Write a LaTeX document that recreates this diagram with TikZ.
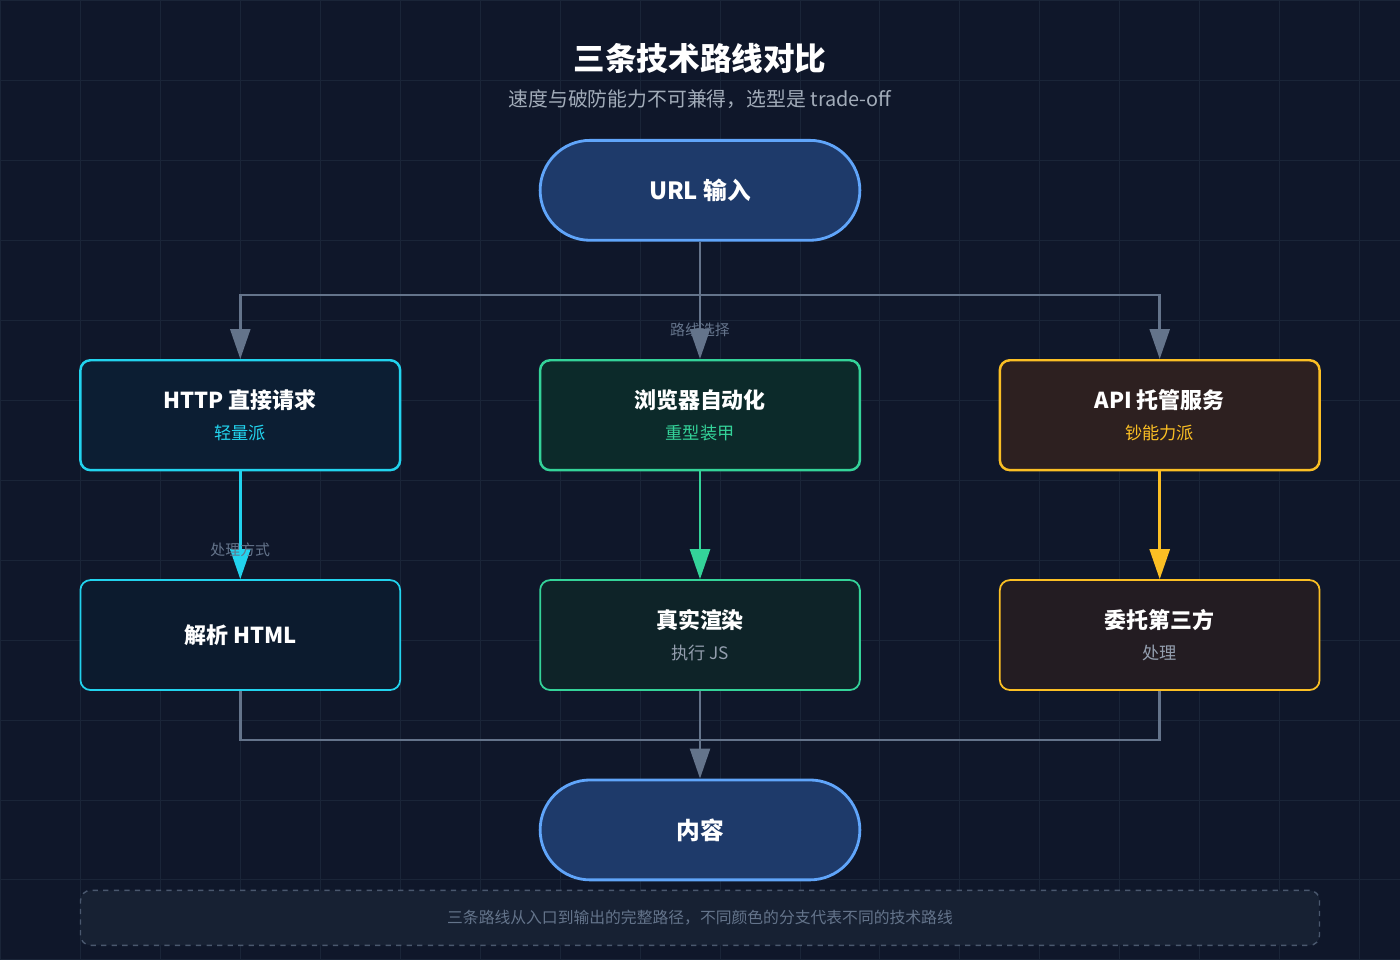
\documentclass[tikz,border=0pt]{standalone}
\usepackage{fontspec}
\setmainfont{Noto Sans CJK SC}
\usetikzlibrary{arrows.meta,positioning}
\definecolor{bgc}{HTML}{0F172A}
\definecolor{gridc}{HTML}{1A2538}
\definecolor{linec}{HTML}{64748B}
\definecolor{pillfill}{HTML}{1E3A6A}
\definecolor{pillline}{HTML}{60A5FA}
\definecolor{cyanc}{HTML}{22D3EE}
\definecolor{greenc}{HTML}{34D399}
\definecolor{amberc}{HTML}{FBBF24}
\definecolor{httpfill}{HTML}{0C1E33}
\definecolor{browserfill}{HTML}{0C2A2A}
\definecolor{apifill}{HTML}{2D2020}
\definecolor{parsefill}{HTML}{0C1B2E}
\definecolor{renderfill}{HTML}{0E2328}
\definecolor{thirdfill}{HTML}{231C22}
\definecolor{notefill}{HTML}{172133}
\newcommand\subtxt[2]{{\mdseries\fontsize{9.8}{12}\selectfont\color{#1}#2}}
\tikzset{
  pill/.style = {rounded corners=50*0.02cm, draw=pillline, line width=1.6pt, fill=pillfill,
    minimum width=6.4cm, minimum height=2cm, text=white, font=\fontsize{13.5}{16}\selectfont\bfseries},
  box/.style = {rounded corners=0.2cm, line width=1.4pt, minimum width=6.4cm,
    minimum height=2.2cm, text=white, align=center, font=\fontsize{12.5}{15}\selectfont\bfseries},
  tag/.style = {text=linec, font=\fontsize{8.5}{10}\selectfont},
  conn/.style = {draw=linec, line width=1.4pt},
  tip/.style = {-{Triangle[length=0.6cm,width=0.4cm]}}
}
\begin{document}
\begin{tikzpicture}[x=0.02cm,y=-0.02cm]
\fill[bgc] (0,0) rectangle (1400,960);
\foreach \i in {0,80,...,1400} \draw[gridc,line width=0.5pt] (\i,0) -- (\i,960);
\foreach \j in {0,80,...,960} \draw[gridc,line width=0.5pt] (0,\j) -- (1400,\j);
\useasboundingbox (0,0) rectangle (1400,960);

% title
\node[text=white, font=\fontsize{18}{21}\selectfont\bfseries] (title) at (700,58) {三条技术路线对比};
\node[text=linec!60!white, font=\fontsize{11.3}{13}\selectfont] (subtitle) at (700,99) {速度与破防能力不可兼得，选型是 trade-off};

% nodes
\node[pill] (url) at (700,190) {URL 输入};

\node[box, draw=cyanc, fill=httpfill] (http) at (240,415) {HTTP 直接请求\\[3pt] \subtxt{cyanc}{轻量派}};
\node[box, draw=greenc, fill=browserfill] (browser) at (700,415) {浏览器自动化\\[3pt] \subtxt{greenc}{重型装甲}};
\node[box, draw=amberc, fill=apifill] (api) at (1160,415) {API 托管服务\\[3pt] \subtxt{amberc}{钞能力派}};

\node[box, draw=cyanc, fill=parsefill, line width=1pt] (parse) at (240,635) {解析 HTML};
\node[box, draw=greenc, fill=renderfill, line width=1pt] (render) at (700,635) {真实渲染\\[3pt] \subtxt{linec!70!white}{执行 JS}};
\node[box, draw=amberc, fill=thirdfill, line width=1pt] (third) at (1160,635) {委托第三方\\[3pt] \subtxt{linec!70!white}{处理}};

\node[pill] (content) at (700,830) {内容};

\coordinate (split) at (700,295);
\coordinate (merge) at (700,740);

% edges
\draw[conn] (url.south) -- (split);
\draw[conn, tip] (split) -| (http.north);
\draw[conn, tip] (split) -- (browser.north);
\draw[conn, tip] (split) -| (api.north);
\node[tag] at (700,330) {路线选择};

\draw[draw=cyanc, line width=1.4pt, tip] (http) -- (parse);
\draw[draw=greenc, line width=1.4pt, tip] (browser) -- (render);
\draw[draw=amberc, line width=1.4pt, tip] (api) -- (third);
\node[tag] at (240,550) {处理方式};

\draw[conn] (parse.south) |- (merge);
\draw[conn] (third.south) |- (merge);
\draw[conn, tip] (render.south) -- (content.north);

% footer
\node[draw=linec!70!bgc, dashed, rounded corners=0.2cm, fill=notefill, line width=0.8pt,
  minimum width=24.8cm, minimum height=1.1cm, text=linec, font=\fontsize{9}{10}\selectfont]
  (note) at (700,918) {三条路线从入口到输出的完整路径，不同颜色的分支代表不同的技术路线};
\end{tikzpicture}
\end{document}
